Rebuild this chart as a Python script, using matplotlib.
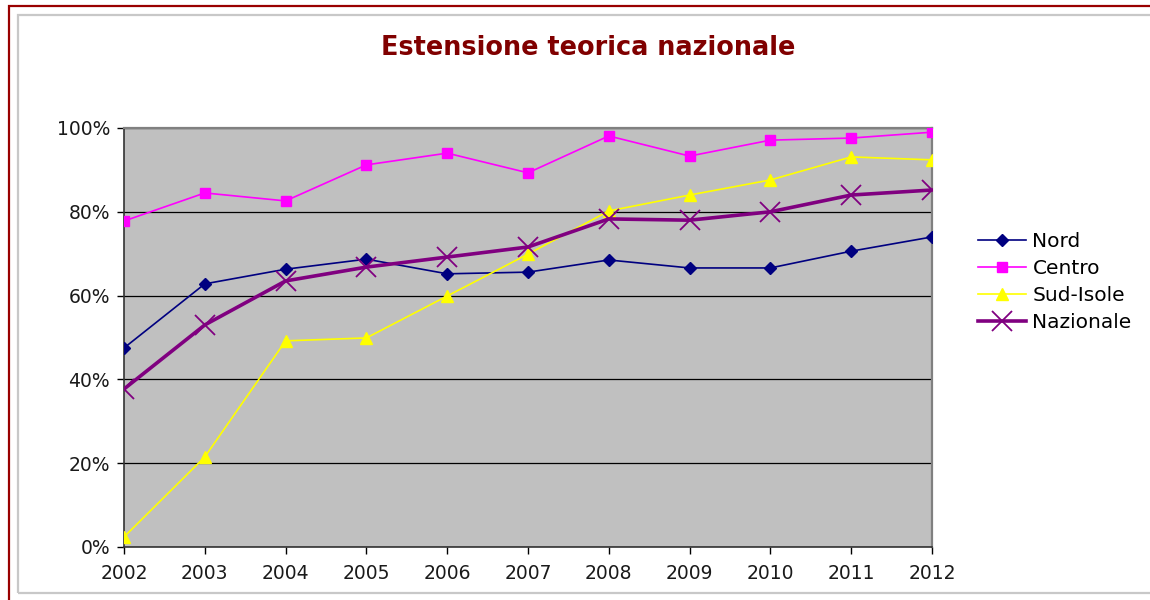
import matplotlib.pyplot as plt
from matplotlib.patches import Rectangle
from matplotlib.ticker import FuncFormatter

years = [2002, 2003, 2004, 2005, 2006, 2007, 2008, 2009, 2010, 2011, 2012]

nord      = [47.5, 62.8, 66.3, 68.7, 65.2, 65.6, 68.5, 66.6, 66.6, 70.6, 74.0]
centro    = [77.8, 84.5, 82.6, 91.2, 94.0, 89.3, 98.1, 93.3, 97.1, 97.6, 99.0]
sud_isole = [2.4, 21.5, 49.2, 49.9, 59.9, 69.9, 80.2, 84.0, 87.6, 93.1, 92.4]
nazionale = [37.7, 53.0, 63.5, 66.8, 69.2, 71.6, 78.3, 78.0, 80.0, 84.0, 85.2]

title = 'Estensione teorica nazionale'

fig = plt.figure(figsize=(11.5, 6), dpi=100)
fig.patch.set_facecolor('white')

# outer frames (dark red border + light grey inner border)
fig.patches.append(Rectangle((9 / 1150, -0.1), 1.2, 1 - 6 / 600 + 0.1,
                             transform=fig.transFigure, fill=False,
                             edgecolor='#990000', linewidth=1.6))
fig.patches.append(Rectangle((18 / 1150, 7 / 600), 1.2, 1 - 22 / 600,
                             transform=fig.transFigure, fill=False,
                             edgecolor='#c8c8c8', linewidth=1.6))

ax = fig.add_axes([124 / 1150, 1 - 547 / 600, (932 - 124) / 1150, (547 - 128) / 600])
ax.set_facecolor('#c0c0c0')

ax.plot(years, nord, color='#000080', linewidth=1.2, marker='D',
        markersize=6, label='Nord', zorder=3)
ax.plot(years, centro, color='#ff00ff', linewidth=1.2, marker='s',
        markersize=7, label='Centro', zorder=3)
ax.plot(years, sud_isole, color='#ffff00', linewidth=1.2, marker='^',
        markersize=9, label='Sud-Isole', zorder=3)
ax.plot(years, nazionale, color='#800080', linewidth=2.6, marker='x',
        markersize=15, markeredgewidth=1.3, label='Nazionale', zorder=4)

ax.set_xlim(years[0], years[-1])
ax.set_ylim(0, 100)
ax.set_xticks(years)
ax.set_yticks([0, 20, 40, 60, 80, 100])
ax.yaxis.set_major_formatter(FuncFormatter(lambda v, p: f'{v:.0f}%'))
ax.grid(axis='y', color='black', linewidth=0.9)
ax.set_axisbelow(True)
ax.tick_params(axis='both', direction='out', length=5, width=1,
               labelsize=13.5, colors='black', pad=5)
ax.tick_params(axis='x', pad=7)

for side in ['top', 'right']:
    ax.spines[side].set_color('#808080')
    ax.spines[side].set_linewidth(1.6)
for side in ['left', 'bottom']:
    ax.spines[side].set_color('#333333')
    ax.spines[side].set_linewidth(1.2)

for t in ax.get_xticklabels() + ax.get_yticklabels():
    t.set_color('#1a1a1a')

fig.text(588 / 1150, 1 - 48 / 600, title, ha='center', va='center',
         fontsize=18.4, fontweight='bold', color='#800000')

fig.legend(loc='center left', bbox_to_anchor=(960 / 1150, 1 - 282 / 600),
           frameon=False, fontsize=14.5, handlelength=2.4, handletextpad=0.3,
           labelspacing=0.4)

fig.savefig('out.png', dpi=100)
